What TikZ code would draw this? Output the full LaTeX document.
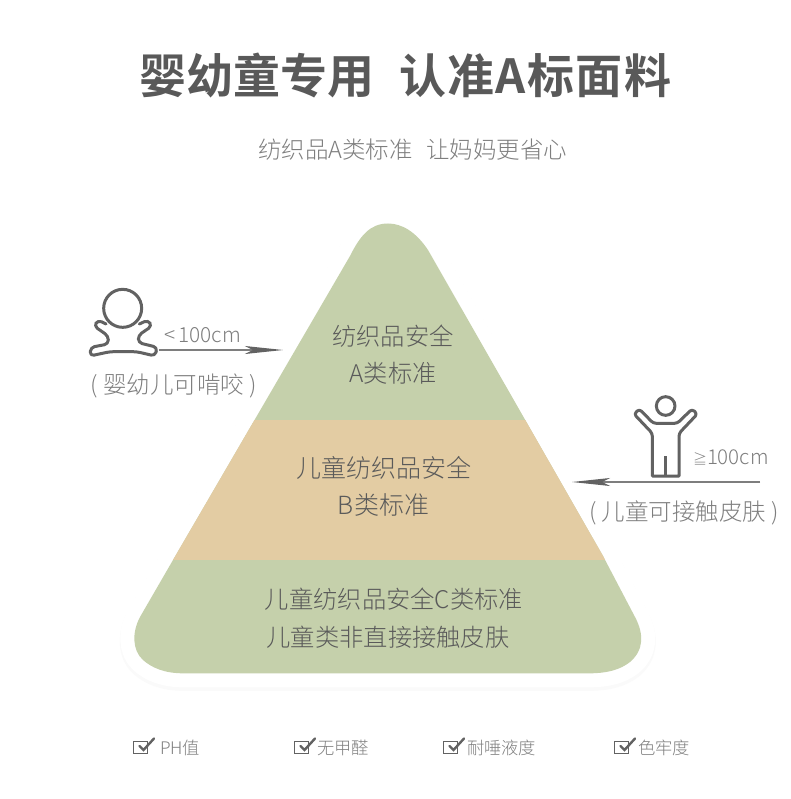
\documentclass[tikz,border=0pt]{standalone}
\usepackage{fontspec}
\usetikzlibrary{arrows.meta}
\setmainfont{Noto Sans CJK SC}[BoldFont={Noto Sans CJK SC Bold}]
\newfontfamily\lightcjk{Noto Sans CJK SC Light}
\newfontfamily\spacedbold[LetterSpace=3]{Noto Sans CJK SC Bold}
\definecolor{pgreen}{HTML}{C5D0AB}
\definecolor{ptan}{HTML}{E3CCA3}
\definecolor{ink}{HTML}{5A5A5A}
\definecolor{soft}{HTML}{7E7E7E}
\definecolor{titleink}{HTML}{595959}
\definecolor{iconink}{HTML}{626262}
\newcommand{\pyrpath}{(388,223.5) .. controls (402,223.5) and (416,232) .. (428,250) -- (603,556) -- (635,617) .. controls (644,634) and (644,650) .. (630,662) .. controls (620,670) and (606,673.3) .. (590,673.3) -- (183,673.3) .. controls (165,673.3) and (152,668) .. (143,660) .. controls (132,650) and (132,632) .. (140,617) -- (173,560) -- (350,256) .. controls (360,236) and (370,223.5) .. (388,223.5) -- cycle}
\newcommand{\sz}[1]{\fontsize{#1}{#1}\selectfont}
\tikzset{
  txt/.style={inner sep=0pt,outer sep=0pt,text=ink,font=\lightcjk\sz{24.3}},
  captext/.style={inner sep=0pt,outer sep=0pt,text=soft,font=\lightcjk\sz{23.5}},
  small/.style={inner sep=0pt,outer sep=0pt,text=soft,font=\lightcjk\sz{17.3}},
  headline/.style={inner sep=0pt,outer sep=0pt,text=titleink,font=\bfseries\sz{47}},
  pointer/.style={draw=soft,line width=1.4pt,-{Stealth[length=38pt,width=8pt,inset=8pt,color=iconink]}},
  icon/.style={draw=iconink,line width=3pt,line join=round,line cap=round},
  chk/.pic={
    \draw[draw=iconink,line width=1pt] (0,0) rectangle (14,12.5);
    \draw[draw=iconink,line width=2.4pt,line cap=round] (6.5,5) -- (10.5,9) -- (21,-2.5);
  }
}
\begin{document}
\begin{tikzpicture}[x=1pt,y=-1pt]
\useasboundingbox (0,0) rectangle (790,799);
\fill[white] (0,0) rectangle (790,799);
% halo
\begin{scope}[shift={(0,3)}]
\draw[draw=black!2,line width=29pt,line join=round] \pyrpath;
\end{scope}
\draw[draw=white,line width=28pt,line join=round] \pyrpath;
% pyramid
\begin{scope}
\clip \pyrpath;
\fill[pgreen] (100,200) rectangle (680,690);
\fill[ptan] (100,419.5) rectangle (680,560);
\end{scope}
% title
\node[headline,anchor=west] (t1) at (139,76) {婴幼童专用};
\node[headline,anchor=west,font=\spacedbold\sz{47}] (t2) at (399,76) {认准A标面料};
\node[captext,anchor=west] (s1) at (258,150) {纺织品A类标准};
\node[captext,anchor=west] (s2) at (426,150) {让妈妈更省心};
% pyramid text
\node[txt] (a1) at (393,336) {纺织品安全};
\node[txt] (a2) at (393,373) {A类标准};
\node[txt,font=\lightcjk\sz{25}] (b1) at (383.5,468) {儿童纺织品安全};
\node[txt,font=\lightcjk\sz{25}] (b2) at (383.5,505) {B类标准};
\node[txt] (c1) at (394,599) {儿童纺织品安全C类标准};
\node[txt] (c2) at (388,637) {儿童类非直接接触皮肤};
% baby
\begin{scope}[shift={(70,270)},scale=1/3]
\draw[icon] (158,115) circle (57);
\draw[icon,rounded corners=4pt] (108,162) -- (84,150) -- (72,168) -- (115,198) -- (115,222) -- (62,232) -- (60,258) -- (120,245) -- (200,245) -- (255,258) -- (262,232) -- (205,218) -- (205,196) -- (246,168) -- (234,150) -- (208,162);
\end{scope}
\coordinate (babyfoot) at (159,350);
\coordinate (pyrleft) at (283,350);
\draw[pointer] (babyfoot) -- (pyrleft);
\node[captext,font=\lightcjk\sz{20.8},anchor=west] (l1) at (164,335) {<\,100cm};
\node[captext,anchor=center] (l2) at (174,386) {( 婴幼儿可啃咬 )};
% child
\begin{scope}[shift={(560,380)},scale=1/3]
\draw[icon] (317,78) circle (28);
\draw[icon,rounded corners=3pt] (280,130) -- (238,87) -- (222,102) -- (277,160) [sharp corners] -- (277,288) -- (357,288) [rounded corners=3pt] -- (357,160) -- (412,102) -- (396,87) -- (352,130) -- cycle;
\draw[icon,line cap=butt] (317,228) -- (317,288);
\end{scope}
\coordinate (childbase) at (760,482);
\coordinate (pyrright) at (572,482);
\draw[pointer] (childbase) -- (pyrright);
\node[captext,font=\lightcjk\sz{20.5},anchor=west] (l3) at (693,457) {{\sz{14}≧}100cm};
\node[captext] (l4) at (684,513) {( 儿童可接触皮肤 )};
% checks
\pic at (133,741) {chk};
\pic at (294,741) {chk};
\pic at (443,741) {chk};
\pic at (614,741) {chk};
\node[small,anchor=west] (k1) at (160,747.5) {PH值};
\node[small,anchor=west] (k2) at (317,747.5) {无甲醛};
\node[small,anchor=west] (k3) at (467,747.5) {耐唾液度};
\node[small,anchor=west] (k4) at (638,747.5) {色牢度};
\end{tikzpicture}
\end{document}
